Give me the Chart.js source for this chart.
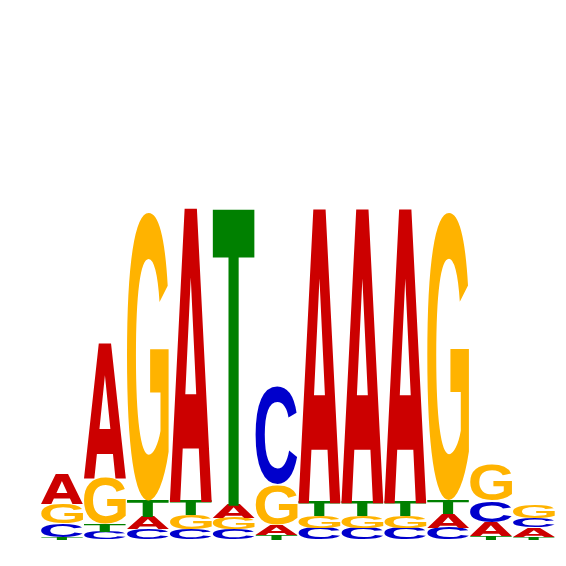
<!DOCTYPE html>
<html lang="en">
<head>
  <meta charset="UTF-8" />
  <title>Sequence Logo</title>
  <script src="https://cdn.jsdelivr.net/npm/chart.js"></script>
  <style>
    body { margin: 0; background: #ffffff; }
    #wrap { width: 566px; height: 566px; }
  </style>
</head>
<body>
  <div id="wrap"><canvas id="logo" width="566" height="566"></canvas></div>

  <script>
    // motif positions and per-letter heights (bits)
    const positions = ['1', '2', '3', '4', '5', '6', '7', '8', '9', '10', '11', '12'];
    const heightA = [0.115, 0.517, 0.048, 1.123, 0.054, 0.040, 1.125, 1.125, 1.125, 0.053, 0.054, 0.036];
    const heightC = [0.052, 0.029, 0.040, 0.040, 0.040, 0.376, 0.045, 0.045, 0.045, 0.044, 0.083, 0.037];
    const heightG = [0.075, 0.175, 1.110, 0.054, 0.044, 0.152, 0.046, 0.046, 0.046, 1.108, 0.138, 0.050];
    const heightT = [0.010, 0.031, 0.062, 0.058, 1.135, 0.019, 0.056, 0.056, 0.056, 0.055, 0.012, 0.010];

    const letterColors = { A: '#CC0000', C: '#0000CC', G: '#FFB300', T: '#008000' };
    const heights = { A: heightA, C: heightC, G: heightG, T: heightT };

    // the A of DejaVu is closer to the Helvetica A of the original
    const sansBold = 'bold 200px "Liberation Sans", Arial, sans-serif';
    const letterFonts = {
      A: 'bold 200px "DejaVu Sans", sans-serif',
      C: sansBold,
      G: sansBold,
      T: sansBold
    };

    // smallest letter at the bottom, tallest on top
    const stacks = positions.map((p, i) =>
      ['A', 'C', 'G', 'T']
        .map(l => ({ letter: l, h: heights[l][i] }))
        .sort((a, b) => a.h - b.h)
    );

    const datasets = [0, 1, 2, 3].map(r => ({
      label: 'layer ' + r,
      data: stacks.map(s => s[r].h),
      letters: stacks.map(s => s[r].letter),
      backgroundColor: 'rgba(0,0,0,0)',
      borderWidth: 0,
      categoryPercentage: 1,
      barPercentage: 0.97
    }));

    // ink bounds of a glyph, found by scanning an offscreen canvas
    const boundsCache = {};
    function glyphBounds(letter, font) {
      const key = font + letter;
      if (boundsCache[key]) return boundsCache[key];
      const c = document.createElement('canvas');
      c.width = 400; c.height = 400;
      const g = c.getContext('2d');
      g.font = font;
      g.textBaseline = 'alphabetic';
      g.fillText(letter, 100, 300);
      const px = g.getImageData(0, 0, 400, 400).data;
      let x0 = 400, x1 = -1, y0 = 400, y1 = -1;
      for (let yy = 0; yy < 400; yy++) {
        for (let xx = 0; xx < 400; xx++) {
          if (px[(yy * 400 + xx) * 4 + 3] > 127) {
            if (xx < x0) x0 = xx;
            if (xx > x1) x1 = xx;
            if (yy < y0) y0 = yy;
            if (yy > y1) y1 = yy;
          }
        }
      }
      const b = { left: x0 - 100, top: y0 - 300, w: x1 - x0 + 1, h: y1 - y0 + 1 };
      boundsCache[key] = b;
      return b;
    }

    function drawGlyph(ctx, letter, left, top, w, h) {
      const font = letterFonts[letter];
      const b = glyphBounds(letter, font);
      ctx.save();
      ctx.translate(left, top);
      ctx.scale(w / b.w, h / b.h);
      ctx.font = font;
      ctx.textAlign = 'left';
      ctx.textBaseline = 'alphabetic';
      ctx.fillStyle = letterColors[letter];
      ctx.fillText(letter, -b.left, -b.top);
      ctx.restore();
    }

    // draws each letter stretched to fill its bar box
    const letterPlugin = {
      id: 'letters',
      afterDatasetsDraw(chart) {
        const ctx = chart.ctx;
        chart.data.datasets.forEach((ds, di) => {
          const meta = chart.getDatasetMeta(di);
          meta.data.forEach((bar, i) => {
            const { x, y, base, width } = bar.getProps(['x', 'y', 'base', 'width'], true);
            const h = base - y;
            if (h <= 0) return;
            drawGlyph(ctx, ds.letters[i], x - width / 2, y, width, h);
          });
        });
      }
    };

    new Chart(document.getElementById('logo').getContext('2d'), {
      type: 'bar',
      data: { labels: positions, datasets },
      options: {
        responsive: false,
        animation: false,
        layout: { padding: { left: 40.5, right: 10.7, top: 20, bottom: 26.5 } },
        plugins: {
          legend: { display: false },
          tooltip: { enabled: false }
        },
        scales: {
          x: { stacked: true, display: false },
          y: { stacked: true, display: false, min: 0, max: 2 }
        }
      },
      plugins: [letterPlugin]
    });
  </script>
</body>
</html>
